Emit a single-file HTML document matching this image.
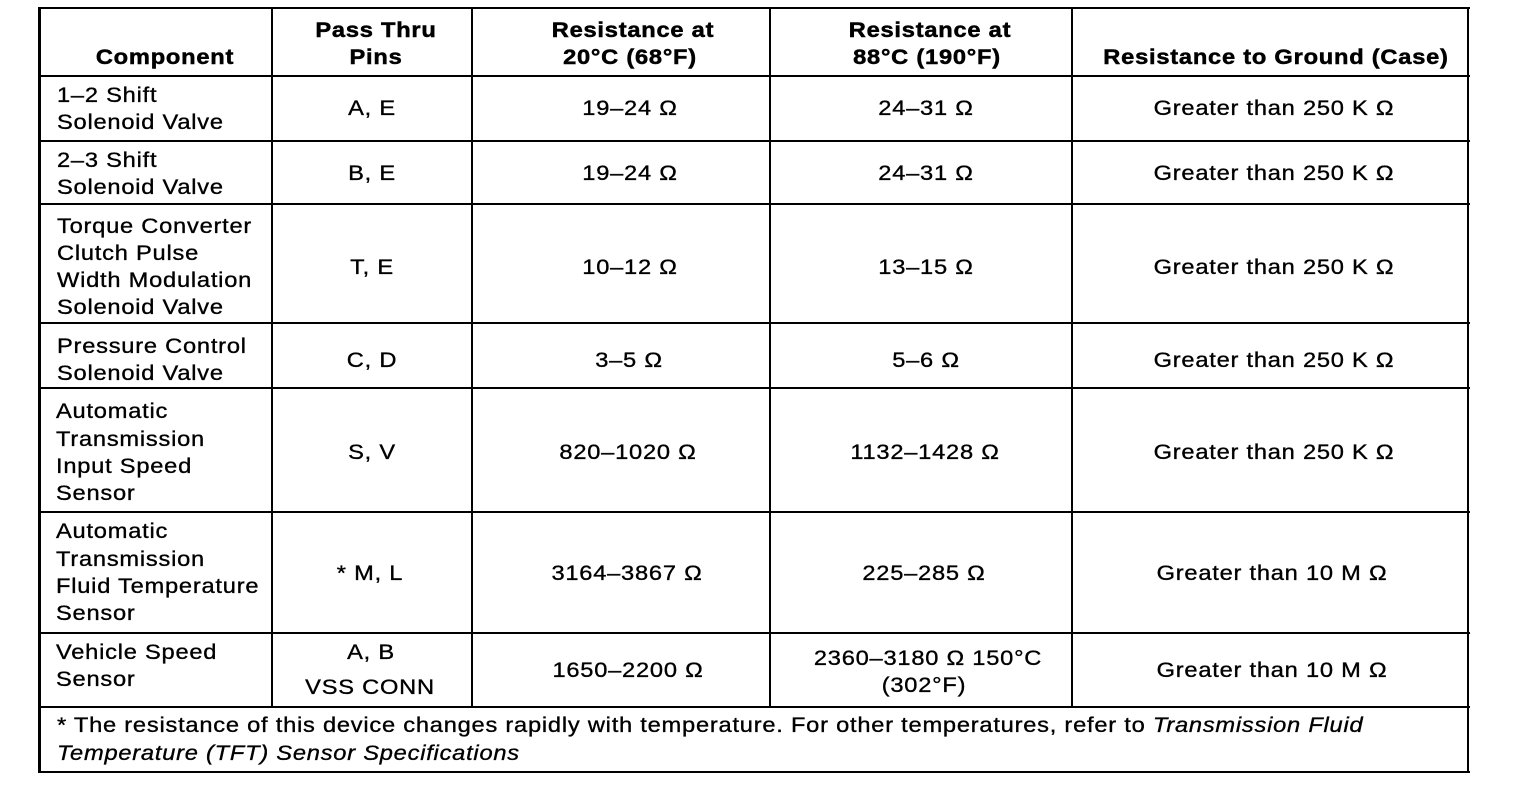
<!DOCTYPE html>
<html>
<head>
<meta charset="utf-8">
<style>
  html, body { margin:0; padding:0; background:#fff; }
  body { width:1520px; height:786px; position:relative; overflow:hidden; }
  .h { position:absolute; background:#000; height:2px; left:38px; width:1432px; }
  .v { position:absolute; background:#000; width:2px; top:7px; height:700px; }
  .t { position:absolute; white-space:nowrap; font-family:"Liberation Sans", Arial, sans-serif;
       font-size:21.5px; letter-spacing:0.7px; line-height:28px; height:28px; color:#000;
       transform:scaleX(1.1); transform-origin:0 50%; -webkit-text-stroke:0.35px #000; }
  .c { width:600px; text-align:center; transform-origin:50% 50%; }
  .b { font-weight:bold; -webkit-text-stroke:0.5px #000; }
  .i { font-style:italic; }
</style>
</head>
<body>
<!-- outer border -->
<div class="h" style="top:7px;"></div>
<div class="h" style="top:771px;"></div>
<div style="position:absolute;left:38px;top:7px;width:3px;height:766px;background:#000;"></div>
<div style="position:absolute;left:1467px;top:7px;width:2px;height:766px;background:#000;"></div>

<!-- row separators -->
<div class="h" style="top:75px;"></div>
<div class="h" style="top:140px;"></div>
<div class="h" style="top:203px;"></div>
<div class="h" style="top:322px;"></div>
<div class="h" style="top:387px;"></div>
<div class="h" style="top:511px;"></div>
<div class="h" style="top:632px;"></div>
<div class="h" style="top:706px;"></div>

<!-- column separators -->
<div class="v" style="left:271px;"></div>
<div class="v" style="left:471px;"></div>
<div class="v" style="left:769px;"></div>
<div class="v" style="left:1071px;"></div>

<!-- header -->
<div class="t c b" style="left:-135px;top:43px;">Component</div>
<div class="t c b" style="left:76px;top:16px;">Pass Thru</div>
<div class="t c b" style="left:76px;top:43px;">Pins</div>
<div class="t c b" style="left:333px;top:16px;">Resistance at</div>
<div class="t c b" style="left:330px;top:43px;">20°C (68°F)</div>
<div class="t c b" style="left:630px;top:16px;">Resistance at</div>
<div class="t c b" style="left:627px;top:43px;">88°C (190°F)</div>
<div class="t c b" style="left:976px;top:43px;">Resistance to Ground (Case)</div>

<!-- row 1 -->
<div class="t" style="left:57px;top:81px;">1–2 Shift</div>
<div class="t" style="left:57px;top:108px;">Solenoid Valve</div>
<div class="t c" style="left:72px;top:94px;">A, E</div>
<div class="t c" style="left:330px;top:94px;">19–24 Ω</div>
<div class="t c" style="left:626px;top:94px;">24–31 Ω</div>
<div class="t c" style="left:974px;top:94px;">Greater than 250 K Ω</div>

<!-- row 2 -->
<div class="t" style="left:57px;top:146px;">2–3 Shift</div>
<div class="t" style="left:57px;top:173px;">Solenoid Valve</div>
<div class="t c" style="left:72px;top:159px;">B, E</div>
<div class="t c" style="left:330px;top:159px;">19–24 Ω</div>
<div class="t c" style="left:626px;top:159px;">24–31 Ω</div>
<div class="t c" style="left:974px;top:159px;">Greater than 250 K Ω</div>

<!-- row 3 -->
<div class="t" style="left:57px;top:212px;">Torque Converter</div>
<div class="t" style="left:57px;top:239px;">Clutch Pulse</div>
<div class="t" style="left:57px;top:266px;">Width Modulation</div>
<div class="t" style="left:57px;top:293px;">Solenoid Valve</div>
<div class="t c" style="left:72px;top:253px;">T, E</div>
<div class="t c" style="left:330px;top:253px;">10–12 Ω</div>
<div class="t c" style="left:626px;top:253px;">13–15 Ω</div>
<div class="t c" style="left:974px;top:253px;">Greater than 250 K Ω</div>

<!-- row 4 -->
<div class="t" style="left:57px;top:332px;">Pressure Control</div>
<div class="t" style="left:57px;top:359px;">Solenoid Valve</div>
<div class="t c" style="left:72px;top:346px;">C, D</div>
<div class="t c" style="left:329px;top:346px;">3–5 Ω</div>
<div class="t c" style="left:626px;top:346px;">5–6 Ω</div>
<div class="t c" style="left:974px;top:346px;">Greater than 250 K Ω</div>

<!-- row 5 -->
<div class="t" style="left:56px;top:397px;">Automatic</div>
<div class="t" style="left:56px;top:425px;">Transmission</div>
<div class="t" style="left:56px;top:452px;">Input Speed</div>
<div class="t" style="left:56px;top:479px;">Sensor</div>
<div class="t c" style="left:72px;top:438px;">S, V</div>
<div class="t c" style="left:328px;top:438px;">820–1020 Ω</div>
<div class="t c" style="left:625px;top:438px;">1132–1428 Ω</div>
<div class="t c" style="left:974px;top:438px;">Greater than 250 K Ω</div>

<!-- row 6 -->
<div class="t" style="left:56px;top:517px;">Automatic</div>
<div class="t" style="left:56px;top:545px;">Transmission</div>
<div class="t" style="left:56px;top:572px;">Fluid Temperature</div>
<div class="t" style="left:56px;top:599px;">Sensor</div>
<div class="t c" style="left:70px;top:559px;">* M, L</div>
<div class="t c" style="left:327px;top:559px;">3164–3867 Ω</div>
<div class="t c" style="left:624px;top:559px;">225–285 Ω</div>
<div class="t c" style="left:972px;top:559px;">Greater than 10 M Ω</div>

<!-- row 7 -->
<div class="t" style="left:56px;top:638px;">Vehicle Speed</div>
<div class="t" style="left:56px;top:665px;">Sensor</div>
<div class="t c" style="left:71px;top:638px;">A, B</div>
<div class="t c" style="left:70px;top:673px;">VSS CONN</div>
<div class="t c" style="left:328px;top:656px;">1650–2200 Ω</div>
<div class="t c" style="left:628px;top:644px;">2360–3180 Ω 150°C</div>
<div class="t c" style="left:624px;top:671px;">(302°F)</div>
<div class="t c" style="left:972px;top:656px;">Greater than 10 M Ω</div>

<!-- footnote -->
<div class="t" style="left:57px;top:711px;">* The resistance of this device changes rapidly with temperature. For other temperatures, refer to <span class="i">Transmission Fluid</span></div>
<div class="t i" style="left:57px;top:739px;">Temperature (TFT) Sensor Specifications</div>
</body>
</html>
